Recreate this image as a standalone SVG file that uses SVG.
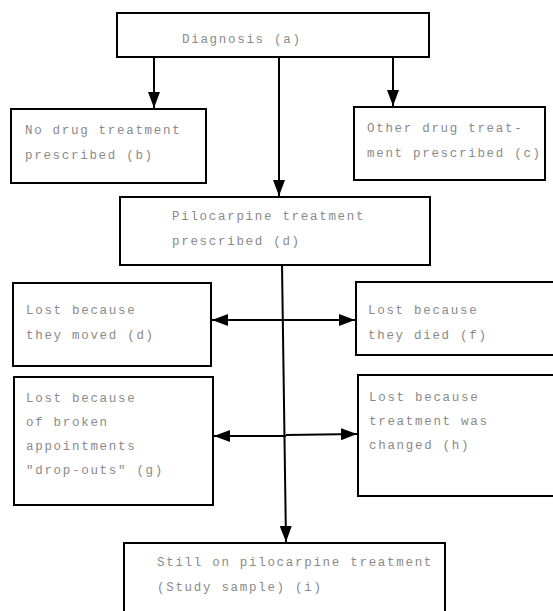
<svg xmlns="http://www.w3.org/2000/svg" width="553" height="611" viewBox="0 0 553 611">
<defs>
<style>
.box{fill:#fff;stroke:#000;stroke-width:2}
.t{font-family:"Liberation Mono","DejaVu Sans Mono",monospace;font-size:12.5px;letter-spacing:1.7px;fill:#8a8a8a}
.c{stroke:#000;stroke-width:2;fill:none}
</style>
<marker id="ah" viewBox="0 0 16 12" refX="16" refY="6" markerWidth="16" markerHeight="12" markerUnits="userSpaceOnUse" orient="auto">
<path d="M0,0 L16,6 L0,12 Z" fill="#000"/>
</marker>
</defs>
<rect width="553" height="611" fill="#fff"/>
<g id="connectors">
<line class="c" x1="154" y1="57" x2="154" y2="108" marker-end="url(#ah)"/>
<line class="c" x1="279" y1="57" x2="279" y2="196" marker-end="url(#ah)"/>
<line class="c" x1="393" y1="57" x2="393" y2="106" marker-end="url(#ah)"/>
<line class="c" x1="282" y1="265" x2="286" y2="542" marker-end="url(#ah)"/>
<line class="c" x1="283" y1="320" x2="212" y2="320" marker-end="url(#ah)"/>
<line class="c" x1="283" y1="320" x2="355" y2="320" marker-end="url(#ah)"/>
<line class="c" x1="286" y1="436" x2="214" y2="436" marker-end="url(#ah)"/>
<line class="c" x1="286" y1="435" x2="357" y2="434" marker-end="url(#ah)"/>
</g>
<g id="node-a">
<rect class="box" x="117" y="13" width="312" height="44"/>
<text class="t" x="182" y="43">Diagnosis (a)</text>
</g>
<g id="node-b">
<rect class="box" x="11" y="109" width="195" height="74"/>
<text class="t" x="25" y="134">No drug treatment</text>
<text class="t" x="25" y="159">prescribed (b)</text>
</g>
<g id="node-c">
<rect class="box" x="354" y="107" width="191" height="73"/>
<text class="t" x="367" y="132">Other drug treat-</text>
<text class="t" x="367" y="157">ment prescribed (c)</text>
</g>
<g id="node-d">
<rect class="box" x="120" y="197" width="310" height="68"/>
<text class="t" x="172" y="220">Pilocarpine treatment</text>
<text class="t" x="172" y="245">prescribed (d)</text>
</g>
<g id="node-e">
<rect class="box" x="13" y="283" width="198" height="83"/>
<text class="t" x="26" y="314">Lost because</text>
<text class="t" x="26" y="339">they moved (d)</text>
</g>
<g id="node-f">
<rect class="box" x="356" y="282" width="200" height="73"/>
<text class="t" x="368" y="314">Lost because</text>
<text class="t" x="368" y="339">they died (f)</text>
</g>
<g id="node-g">
<rect class="box" x="14" y="377" width="199" height="128"/>
<text class="t" x="26" y="402">Lost because</text>
<text class="t" x="26" y="426">of broken</text>
<text class="t" x="26" y="450">appointments</text>
<text class="t" x="26" y="474">"drop-outs" (g)</text>
</g>
<g id="node-h">
<rect class="box" x="358" y="375" width="198" height="121"/>
<text class="t" x="369" y="401">Lost because</text>
<text class="t" x="369" y="425">treatment was</text>
<text class="t" x="369" y="449">changed (h)</text>
</g>
<g id="node-i">
<rect class="box" x="124" y="543" width="321" height="72"/>
<text class="t" x="157" y="566">Still on pilocarpine treatment</text>
<text class="t" x="157" y="591">(Study sample) (i)</text>
</g>
</svg>
